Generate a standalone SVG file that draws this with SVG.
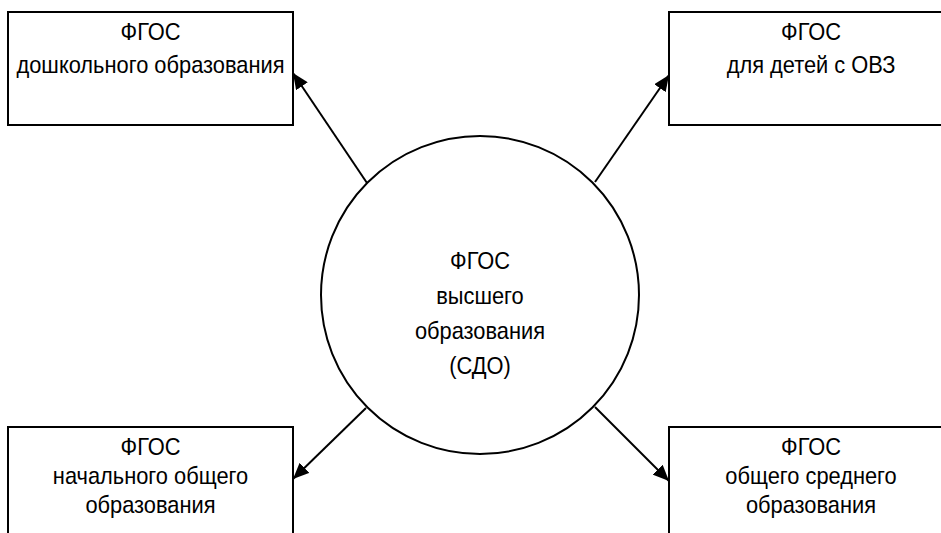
<svg xmlns="http://www.w3.org/2000/svg" width="941" height="533" viewBox="0 0 941 533">
<style>
.box{fill:#fff;stroke:#000;stroke-width:2}
.lbl{font-family:"Liberation Sans",Arial,sans-serif;font-size:24px;fill:#000;text-anchor:middle}
.con{stroke:#000;stroke-width:2;fill:none;marker-end:url(#arr)}
</style>
<defs>
<marker id="arr" markerUnits="userSpaceOnUse" markerWidth="16" markerHeight="14" refX="16" refY="7" orient="auto">
<path d="M0,0 L16,7 L0,14 z" fill="#000"/>
</marker>
</defs>
<rect width="941" height="533" fill="#fff"/>
<g id="center">
<circle class="box" cx="480" cy="295" r="159"/>
<g transform="translate(480,0) scale(0.91,1)">
<text class="lbl" x="0" y="269">ФГОС</text>
<text class="lbl" x="0" y="304">высшего</text>
<text class="lbl" x="0" y="339">образования</text>
<text class="lbl" x="0" y="374">(СДО)</text>
</g>
</g>
<g id="preschool">
<rect class="box" x="8" y="12" width="285" height="113"/>
<g transform="translate(150.5,0) scale(0.91,1)">
<text class="lbl" x="0" y="40">ФГОС</text>
<text class="lbl" x="0" y="73">дошкольного образования</text>
</g>
</g>
<g id="ovz">
<rect class="box" x="669" y="12" width="285" height="113"/>
<g transform="translate(811,0) scale(0.91,1)">
<text class="lbl" x="0" y="40">ФГОС</text>
<text class="lbl" x="0" y="73">для детей с ОВЗ</text>
</g>
</g>
<g id="primary">
<rect class="box" x="8" y="427" width="285" height="120"/>
<g transform="translate(150.5,0) scale(0.91,1)">
<text class="lbl" x="0" y="455">ФГОС</text>
<text class="lbl" x="0" y="484">начального общего</text>
<text class="lbl" x="0" y="513">образования</text>
</g>
</g>
<g id="secondary">
<rect class="box" x="669" y="427" width="285" height="120"/>
<g transform="translate(811,0) scale(0.91,1)">
<text class="lbl" x="0" y="455">ФГОС</text>
<text class="lbl" x="0" y="484">общего среднего</text>
<text class="lbl" x="0" y="513">образования</text>
</g>
</g>
<g id="connectors">
<line class="con" x1="367" y1="183" x2="293" y2="73"/>
<line class="con" x1="595" y1="182" x2="669" y2="75"/>
<line class="con" x1="366" y1="408" x2="293" y2="479"/>
<line class="con" x1="595" y1="407" x2="669" y2="481"/>
</g>
</svg>
